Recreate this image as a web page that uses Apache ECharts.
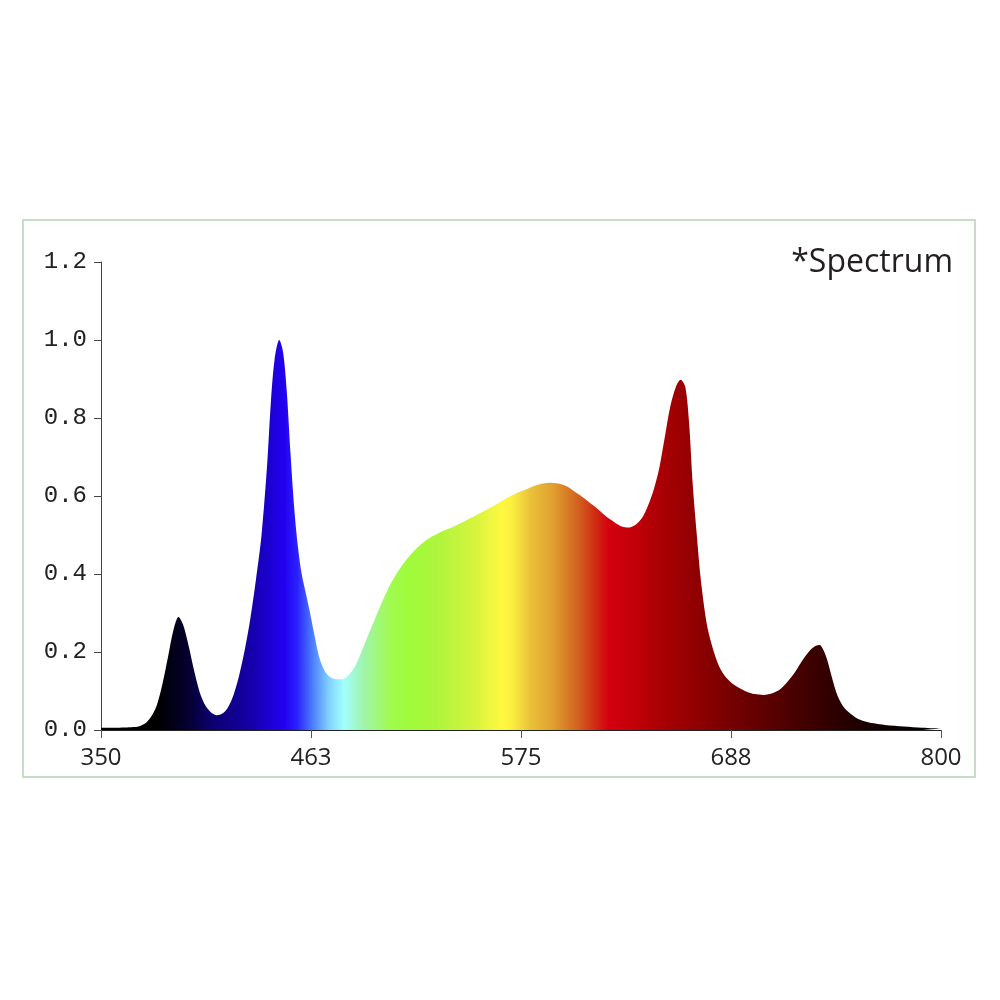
<!DOCTYPE html>
<html>
<head>
<meta charset="utf-8">
<script src="https://cdn.jsdelivr.net/npm/echarts@6/dist/echarts.min.js"></script>
<style>html,body{margin:0;padding:0;background:#fff}#c{width:1000px;height:1000px}</style>
</head>
<body>
<div id="c"></div>
<script>
const wavelengths = [350,355,360,365,370,374,377,380,383,386,389,391.5,394,397,400,403,406,409,412,415,418,421,424,427,430,433,436,439,441,443,445.5,447.5,449.5,451.5,453.5,455.5,457.5,460,462,464.5,467,470,473,476,479,482,485,488,491,494,497,500,504,508,512,516,520,524,528,532,536,540,545,550,555,560,565,570,575,580,585,590,595,600,605,610,615,620,625,629,632.5,636,640,643,646,649,652,655,658,660.5,663,665,667,669,671,673,675,678,681,684,688,692,696,700,705,710,714,718,722,726,730,733,735,737,739,741,744,747,750,754,758,764,770,780,790,800];
const intensity = [0.006,0.006,0.006,0.007,0.009,0.018,0.035,0.065,0.12,0.19,0.26,0.29,0.27,0.215,0.15,0.095,0.062,0.045,0.038,0.042,0.058,0.09,0.14,0.205,0.285,0.385,0.50,0.68,0.84,0.95,1.0,0.97,0.87,0.71,0.57,0.47,0.40,0.345,0.30,0.24,0.185,0.15,0.135,0.13,0.13,0.138,0.155,0.183,0.218,0.253,0.288,0.322,0.364,0.398,0.426,0.450,0.470,0.486,0.498,0.508,0.516,0.524,0.536,0.548,0.561,0.574,0.588,0.601,0.612,0.622,0.63,0.634,0.632,0.624,0.607,0.59,0.571,0.55,0.533,0.522,0.519,0.525,0.545,0.575,0.615,0.67,0.75,0.83,0.88,0.898,0.88,0.79,0.63,0.51,0.40,0.32,0.26,0.205,0.165,0.14,0.12,0.108,0.098,0.092,0.09,0.095,0.105,0.125,0.15,0.18,0.205,0.216,0.218,0.205,0.18,0.145,0.095,0.065,0.048,0.033,0.024,0.017,0.013,0.009,0.006,0.004];
const xTickValues = [350,462.5,575,687.5,800];
const yTickValues = [0,0.2,0.4,0.6,0.8,1.0,1.2];
const colorStopWavelengths = [350,380,395,410,430,448,455,463,472,480,490,505,515,530,550,565,570,580,592,605,615,622,635,650,680,715,745,770,800];
const colorStopColors = ['#000000','#000000','#05002a','#0c0070','#1500a8','#2200f0','#2a20ff','#4a7aff','#80d0ff','#a0ffff','#a0f4b0','#a0fb50','#9ffb3a','#aef53c','#d6f43e','#fff840','#fbf040','#eac23a','#e0a030','#d26420','#d02a12','#d40010','#c20008','#aa0004','#800000','#520000','#2b0000','#100000','#000000'];
const titleText = '*Spectrum';

const chart = echarts.init(document.getElementById('c'));
const xMin = 350, xMax = 800;
const stops = colorStopWavelengths.map((w,i)=>({offset:(w-xMin)/(xMax-xMin), color:colorStopColors[i]}));
chart.setOption({
  animation:false,
  backgroundColor:'#fff',
  graphic:[
    {type:'rect', shape:{x:23,y:220,width:952,height:557}, style:{fill:'none', stroke:'#c6dec6', lineWidth:2}, z:-1},
    {type:'text', right:47, top:247, style:{text:titleText, font:'32px "Open Sans"', fill:'#231f20'}}
  ],
  grid:{left:101,right:59,top:262,bottom:270},
  xAxis:{
    type:'value', min:xMin, max:xMax,
    axisLine:{show:true,lineStyle:{color:'#222',width:1}},
    axisTick:{show:true,length:8,lineStyle:{color:'#555'},customValues:xTickValues},
    axisLabel:{customValues:xTickValues,formatter:v=>String(Math.round(v)),fontFamily:'Open Sans',fontSize:24,color:'#222',margin:16},
    splitLine:{show:false}
  },
  yAxis:{
    type:'value', min:0, max:1.2,
    axisLine:{show:true,lineStyle:{color:'#444',width:1}},
    axisTick:{show:true,length:7,lineStyle:{color:'#444'},customValues:yTickValues},
    axisLabel:{customValues:yTickValues,formatter:v=>v.toFixed(1),fontFamily:'Liberation Mono',fontSize:24,color:'#222',margin:14},
    splitLine:{show:false}
  },
  series:[{
    type:'line',
    data:wavelengths.map((w,i)=>[w,intensity[i]]),
    smooth:0.3,
    showSymbol:false,
    lineStyle:{width:0},
    areaStyle:{opacity:1,color:new echarts.graphic.LinearGradient(0,0,1,0,stops)}
  }]
});
</script>
</body>
</html>
